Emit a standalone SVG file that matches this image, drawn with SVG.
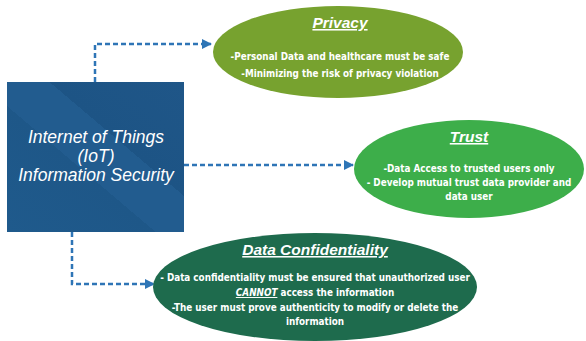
<svg xmlns="http://www.w3.org/2000/svg" width="586" height="341" viewBox="0 0 586 341">
<style>
.conn{fill:none;stroke:#2e75b6;stroke-width:2.5;stroke-dasharray:5 3}
.title{font-family:"Liberation Sans",Arial,sans-serif;font-weight:bold;font-style:italic;font-size:15.5px;fill:#fff;text-anchor:middle;text-decoration:underline}
.body{font-family:"DejaVu Sans",sans-serif;font-stretch:condensed;font-weight:bold;font-size:9.8px;fill:#fff;text-anchor:middle}
.box{font-family:"Liberation Sans",Arial,sans-serif;font-style:italic;font-size:17.5px;fill:#fff;text-anchor:middle}
</style>
<defs>
<marker id="ah" viewBox="0 0 10 10" refX="9" refY="5" markerWidth="4" markerHeight="4" orient="auto" markerUnits="strokeWidth">
<path d="M0,0 L10,5 L0,10 z" fill="#2e75b6"/>
</marker>
<linearGradient id="bg" x1="0" y1="1" x2="1" y2="0">
<stop offset="0" stop-color="#1f5a8c"/>
<stop offset="0.42" stop-color="#1e5788"/>
<stop offset="0.42" stop-color="#225c8f"/>
<stop offset="0.62" stop-color="#225c8f"/>
<stop offset="0.62" stop-color="#1d5485"/>
<stop offset="1" stop-color="#1f5688"/>
</linearGradient>
</defs>
<rect width="586" height="341" fill="#fff"/>
<g id="connectors">
<path class="conn" d="M95,82 V44 H211" marker-end="url(#ah)"/>
<path class="conn" d="M184,165 H353" marker-end="url(#ah)"/>
<path class="conn" d="M72,232 V284 H154" marker-end="url(#ah)"/>
</g>
<g id="iot">
<rect x="7" y="82" width="177" height="150" fill="url(#bg)"/>
<text class="box" x="96" y="143">Internet of Things</text>
<text class="box" x="96" y="162">(IoT)</text>
<text class="box" x="96" y="181">Information Security</text>
</g>
<g id="privacy">
<ellipse cx="338" cy="52" rx="125" ry="46" fill="#77a22f"/>
<text class="title" x="340" y="28">Privacy</text>
<text class="body" x="340" y="60">-Personal Data and healthcare must be safe</text>
<text class="body" x="340" y="77">-Minimizing the risk of privacy violation</text>
</g>
<g id="trust">
<ellipse cx="469" cy="169" rx="115" ry="49" fill="#3dae4a"/>
<text class="title" x="469" y="142">Trust</text>
<text class="body" x="469" y="172">-Data Access to trusted users only</text>
<text class="body" x="469" y="186">- Develop mutual trust data provider and</text>
<text class="body" x="469" y="200">data user</text>
</g>
<g id="confidentiality">
<ellipse cx="315" cy="287" rx="162" ry="54" fill="#1e6b4d"/>
<text class="title" x="315" y="255">Data Confidentiality</text>
<text class="body" x="315" y="281">- Data confidentiality must be ensured that unauthorized user</text>
<text class="body" x="315" y="296"><tspan font-style="italic" text-decoration="underline">CANNOT</tspan> access the information</text>
<text class="body" x="315" y="311">-The user must prove authenticity to modify or delete the</text>
<text class="body" x="315" y="325">information</text>
</g>
</svg>
